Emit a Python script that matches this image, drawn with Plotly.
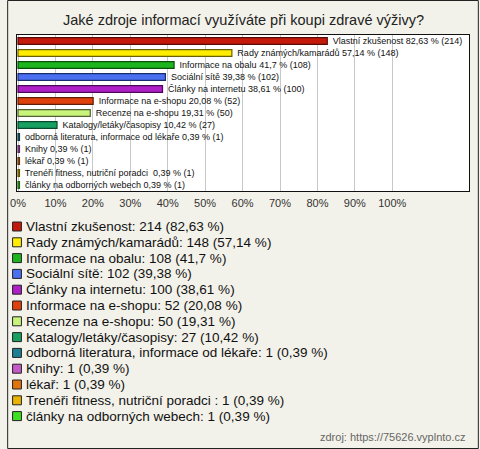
import plotly.graph_objects as go

title = "Jaké zdroje informací využíváte při koupi zdravé výživy?"
categories = [
    "Vlastní zkušenost",
    "Rady známých/kamarádů",
    "Informace na obalu",
    "Sociální sítě",
    "Články na internetu",
    "Informace na e-shopu",
    "Recenze na e-shopu",
    "Katalogy/letáky/časopisy",
    "odborná literatura, informace od lékaře",
    "Knihy",
    "lékař",
    "Trenéři fitness, nutriční poradci ",
    "články na odborných webech",
]
counts = [214, 148, 108, 102, 100, 52, 50, 27, 1, 1, 1, 1, 1]
percents = [82.63, 57.14, 41.7, 39.38, 38.61, 20.08, 19.31, 10.42, 0.39, 0.39, 0.39, 0.39, 0.39]
colors = ["#c41a0c", "#ffec00", "#1db51d", "#4a6ff0", "#b01ec8", "#e0400c", "#c8f47c",
          "#18a060", "#1c7f92", "#c45ac8", "#e2740e", "#e8b400", "#3ee020"]
line_colors = ["#5a0a04", "#6a6000", "#0a500a", "#1a2c70", "#4c0858", "#601c04", "#506030",
               "#0a4a2a", "#0a3840", "#582858", "#603008", "#605000", "#1a6010"]
tick_vals = [0, 10, 20, 30, 40, 50, 60, 70, 80, 90, 100]
tick_text = [f"{v}%" for v in tick_vals]
source = "zdroj: https://75626.vyplnto.cz"

W, H = 480, 449
L, R, T, B = 10, 10, 35, 258
PW = W - L - R
PH = H - T - B


def fmt(v):
    return str(v).replace(".", ",")


def px(x):
    return (x - L) / PW


def py(y):
    return (H - B - y) / PH


bar_text = [f"{c} {fmt(p)} % ({n})" for c, p, n in zip(categories, percents, counts)]

fig = go.Figure()
fig.add_trace(go.Bar(
    x=percents, y=categories, orientation="h",
    marker=dict(color=colors, line=dict(color=line_colors, width=1.2)),
    width=0.56,
    text=[" " + t for t in bar_text], textposition="outside", constraintext="none",
    textfont=dict(family="Arial", size=9, color="#111"),
    cliponaxis=False, showlegend=False, hoverinfo="skip",
))

shapes = []
annotations = []
# legend
for i, (c, p, n, col, lc) in enumerate(zip(categories, percents, counts, colors, line_colors)):
    yc = 226.5 + 15.8 * i
    shapes.append(dict(type="rect", xref="paper", yref="paper",
                       x0=px(5.5), x1=px(14.5), y0=py(yc + 4.5), y1=py(yc - 4.5),
                       fillcolor=col, line=dict(color="#222", width=1)))
    annotations.append(dict(xref="paper", yref="paper", x=px(17.5), y=py(yc),
                            xanchor="left", yanchor="middle", showarrow=False,
                            text=f"{c}: {n} ({fmt(p)} %)",
                            font=dict(family="Arial", size=13.5, color="#111")))

annotations.append(dict(xref="paper", yref="paper", x=px(240), y=py(20),
                        xanchor="center", yanchor="middle", showarrow=False,
                        text=title, font=dict(family="Arial", size=14.5, color="#222")))
annotations.append(dict(xref="paper", yref="paper", x=px(469), y=py(437),
                        xanchor="right", yanchor="middle", showarrow=False,
                        text=source, font=dict(family="Arial", size=11, color="#666")))
# outer border
shapes.append(dict(type="rect", xref="paper", yref="paper",
                   x0=px(0.5), x1=px(479.5), y0=py(448.5), y1=py(0.5),
                   line=dict(color="#222", width=1), fillcolor="rgba(0,0,0,0)", layer="above"))

fig.update_layout(
    width=W, height=H,
    margin=dict(l=L, r=R, t=T, b=B, pad=0),
    paper_bgcolor="#f3f2ea", plot_bgcolor="#ffffff",
    xaxis=dict(range=[-0.27, 120.5], tickvals=tick_vals, ticktext=tick_text,
               showgrid=True, gridcolor="#c8c8c8", gridwidth=1, zeroline=False,
               showline=True, linecolor="#111", linewidth=1, mirror=True,
               ticks="outside", ticklen=2, tickcolor="rgba(0,0,0,0)",
               tickfont=dict(family="Arial", size=11, color="#333"), fixedrange=True),
    yaxis=dict(range=[12.5, -0.5], showticklabels=False, showgrid=False, zeroline=False,
               showline=True, linecolor="#111", linewidth=1, mirror=True, fixedrange=True),
    shapes=shapes, annotations=annotations, showlegend=False,
)

fig.write_html(
    "out.html",
    config={"displayModeBar": False},
    post_script="document.body.style.margin='0';document.body.style.overflow='hidden';",
)
